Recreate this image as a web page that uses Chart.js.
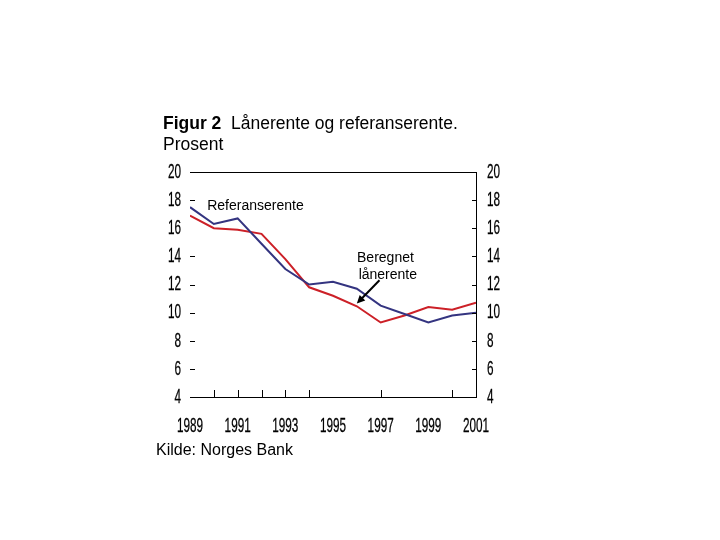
<!DOCTYPE html>
<html>
<head>
<meta charset="utf-8">
<script src="https://cdn.jsdelivr.net/npm/chart.js@4.4.1/dist/chart.umd.min.js"></script>
<style>
  body { margin: 0; background: #fff; }
  #wrap { position: relative; width: 720px; height: 540px; }
  #chart { position: absolute; left: 0; top: 0; }
  #title { position: absolute; left: 163px; top: 113px; font: 17.5px 'Liberation Sans', Arial, sans-serif; line-height: 21px; color: #000; }
  #kilde { position: absolute; left: 156px; top: 441px; font: 16px 'Liberation Sans', Arial, sans-serif; color: #000; }
</style>
</head>
<body>
<div id="wrap">
  <canvas id="chart" width="720" height="540"></canvas>
  <div id="title"><b>Figur 2</b>&nbsp; Lånerente og referanserente.<br>Prosent</div>
  <div id="kilde">Kilde: Norges Bank</div>
</div>
<script>
// data
const years = [1989, 1990, 1991, 1992, 1993, 1994, 1995, 1996, 1997, 1998, 1999, 2000, 2001];
const referanserente = [17.5, 16.3, 16.7, 14.9, 13.1, 12.0, 12.2, 11.7, 10.5, 9.9, 9.3, 9.8, 10.0];
const laanerente = [16.9, 16.0, 15.9, 15.6, 13.8, 11.8, 11.2, 10.45, 9.3, 9.8, 10.4, 10.2, 10.7];

// tick marks drawn inside the frame
const xTickYears = [1990, 1991, 1992, 1993, 1994, 1997, 2000];
const yTicksLeft = [6, 8, 10, 12, 14, 18];
const yTicksRight = [6, 8, 10, 12, 14, 16, 18];

const toPoints = (vals) => years.map((y, i) => ({ x: y, y: vals[i] }));

// narrow tick label (the original uses a tall condensed face)
const drawNarrow = (ctx, text, x, y, align) => {
    ctx.save();
    ctx.translate(x, y);
    ctx.scale(0.56, 1);
    ctx.textAlign = align;
    ctx.fillText(text, 0, 0);
    ctx.lineWidth = 0.3;
    ctx.strokeStyle = '#000';
    ctx.strokeText(text, 0, 0);
    ctx.restore();
};

// frame, inner ticks, tick labels, text and arrow
const framePlugin = {
    id: 'frame',
    afterDraw(chart) {
        const ctx = chart.ctx;
        const a = chart.chartArea;
        const xs = chart.scales.x, ys = chart.scales.y, ys2 = chart.scales.y2;
        ctx.save();
        ctx.strokeStyle = '#000';
        ctx.lineWidth = 1;
        ctx.beginPath();
        ctx.moveTo(a.left, a.top + 0.5);
        ctx.lineTo(a.right, a.top + 0.5);
        xTickYears.forEach(yr => {
            const px = Math.round(xs.getPixelForValue(yr)) + 0.5;
            ctx.moveTo(px, a.bottom);
            ctx.lineTo(px, a.bottom - 7);
        });
        yTicksLeft.forEach(v => {
            const py = Math.round(ys.getPixelForValue(v)) + 0.5;
            ctx.moveTo(a.left, py);
            ctx.lineTo(a.left + 5, py);
        });
        yTicksRight.forEach(v => {
            const py = Math.round(ys.getPixelForValue(v)) + 0.5;
            ctx.moveTo(a.right - 4, py);
            ctx.lineTo(a.right, py);
        });
        ctx.stroke();

        // tick labels
        ctx.fillStyle = '#000';
        ctx.font = "21px 'Liberation Sans', Arial, sans-serif";
        ctx.textBaseline = 'middle';
        ys.ticks.forEach(t => drawNarrow(ctx, String(t.value), a.left - 9, ys.getPixelForValue(t.value), 'right'));
        ys2.ticks.forEach(t => drawNarrow(ctx, String(t.value), a.right + 11, ys2.getPixelForValue(t.value), 'left'));
        xs.ticks.forEach(t => drawNarrow(ctx, String(t.value), xs.getPixelForValue(t.value), a.bottom + 29, 'center'));

        ctx.font = "14px 'Liberation Sans', Arial, sans-serif";
        ctx.textAlign = 'left';
        ctx.fillText('Referanserente', xs.getPixelForValue(1989.72), ys.getPixelForValue(17.6));
        ctx.textAlign = 'center';
        ctx.fillText('Beregnet', xs.getPixelForValue(1997.2), ys.getPixelForValue(13.85));
        ctx.fillText('lånerente', xs.getPixelForValue(1997.3), ys.getPixelForValue(12.65));

        // arrow pointing at the red line
        const x0 = xs.getPixelForValue(1996.95), y0 = ys.getPixelForValue(12.3);
        const x1 = xs.getPixelForValue(1996.0), y1 = ys.getPixelForValue(10.65);
        const ang = Math.atan2(y1 - y0, x1 - x0);
        ctx.lineWidth = 2;
        ctx.beginPath();
        ctx.moveTo(x0, y0);
        ctx.lineTo(x1 - 6 * Math.cos(ang), y1 - 6 * Math.sin(ang));
        ctx.stroke();
        ctx.beginPath();
        ctx.moveTo(x1, y1);
        ctx.lineTo(x1 - 9 * Math.cos(ang - 0.45), y1 - 9 * Math.sin(ang - 0.45));
        ctx.lineTo(x1 - 9 * Math.cos(ang + 0.45), y1 - 9 * Math.sin(ang + 0.45));
        ctx.closePath();
        ctx.fill();
        ctx.restore();
    }
};

new Chart(document.getElementById('chart'), {
    type: 'line',
    data: {
        datasets: [
            {
                label: 'Referanserente',
                data: toPoints(referanserente),
                borderColor: '#343480',
                borderWidth: 2,
                pointRadius: 0,
                tension: 0
            },
            {
                label: 'Beregnet lånerente',
                data: toPoints(laanerente),
                borderColor: '#cc2027',
                borderWidth: 2,
                pointRadius: 0,
                tension: 0
            }
        ]
    },
    options: {
        responsive: false,
        animation: false,
        layout: { padding: { left: 150, top: 172, right: 204, bottom: 103 } },
        plugins: { legend: { display: false }, tooltip: { enabled: false } },
        scales: {
            x: {
                type: 'linear',
                min: 1989,
                max: 2001,
                grid: { display: false },
                border: { display: true, color: '#000', width: 1 },
                ticks: { stepSize: 2, display: false },
                afterFit: (s) => { s.height = 40; }
            },
            y: {
                position: 'left',
                min: 4,
                max: 20,
                grid: { display: false },
                border: { display: false },
                ticks: { stepSize: 2, display: false },
                afterFit: (s) => { s.width = 40; }
            },
            y2: {
                position: 'right',
                min: 4,
                max: 20,
                grid: { display: false },
                border: { display: true, color: '#000', width: 1 },
                ticks: { stepSize: 2, display: false },
                afterFit: (s) => { s.width = 40; }
            }
        }
    },
    plugins: [framePlugin]
});
</script>
</body>
</html>
